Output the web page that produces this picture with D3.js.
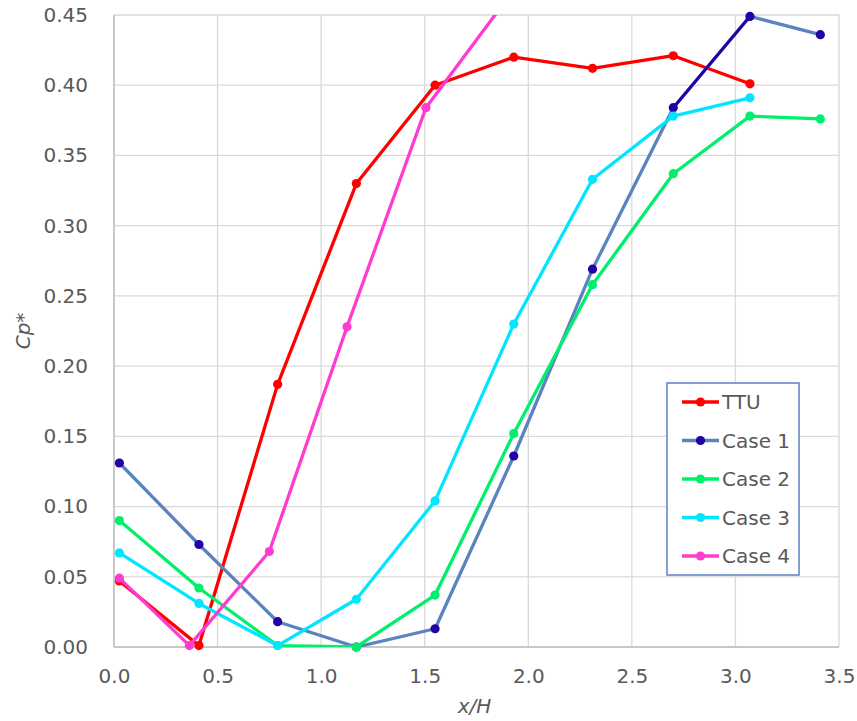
<!DOCTYPE html>
<html>
<head>
<meta charset="utf-8">
<script src="https://cdn.jsdelivr.net/npm/d3@7"></script>
<style>
  body { margin: 0; background: #fff; }
  svg { display: block; }
</style>
</head>
<body>
<svg id="chart" width="857" height="721"></svg>
<script>
// ---- data ----
var xTicks = [0, 0.5, 1.0, 1.5, 2.0, 2.5, 3.0, 3.5]
var yTicks = [0, 0.05, 0.10, 0.15, 0.20, 0.25, 0.30, 0.35, 0.40, 0.45]

var xStations = [0.026, 0.41, 0.79, 1.17, 1.55, 1.93, 2.31, 2.70, 3.07, 3.41]
var xStationsCase4 = [0.026, 0.364, 0.75, 1.125, 1.506, 1.89]

var ttu   = [0.047, 0.001, 0.187, 0.330, 0.400, 0.420, 0.412, 0.421, 0.401]
var case1 = [0.131, 0.073, 0.018, 0.000, 0.013, 0.136, 0.269, 0.384, 0.449, 0.436]
var case2 = [0.090, 0.042, 0.001, 0.000, 0.037, 0.152, 0.258, 0.337, 0.378, 0.376]
var case3 = [0.067, 0.031, 0.001, 0.034, 0.104, 0.230, 0.333, 0.378, 0.391]
var case4 = [0.049, 0.001, 0.068, 0.228, 0.384, 0.460]

var names = ["TTU", "Case 1", "Case 2", "Case 3", "Case 4"]

var series = [
  {name: names[0], xs: xStations, values: ttu, line: "#ff0000", dot: "#ff0000"},
  {name: names[1], xs: xStations, values: case1, line: "#5a83bf", dot: "#2400a8"},
  {name: names[2], xs: xStations, values: case2, line: "#00ef6c", dot: "#00ef6c"},
  {name: names[3], xs: xStations, values: case3, line: "#00e6ff", dot: "#00e6ff"},
  {name: names[4], xs: xStationsCase4, values: case4, line: "#ff3ccf", dot: "#ff3ccf"}
]

var svg = d3.select('svg#chart')
var margin = {left: 114, right: 18, top: 15, bottom: 74}
var width = 857
var height = 721
var fontFamily = "'DejaVu Sans', sans-serif"
var textColor = "#595959"

var x = d3.scaleLinear()
    .domain([0, 3.5])
    .range([margin.left, width - margin.right])
var y = d3.scaleLinear()
    .domain([0, 0.45])
    .range([height - margin.bottom, margin.top])

// gridlines
var grid = svg.append("g")
    .attr("stroke", "#d9d9d9")
    .attr("stroke-width", 1.3)
grid.selectAll("line.v")
  .data(xTicks)
  .enter().append("line")
    .attr("x1", d => x(d)).attr("x2", d => x(d))
    .attr("y1", y(0.45)).attr("y2", y(0))
grid.selectAll("line.h")
  .data(yTicks)
  .enter().append("line")
    .attr("x1", x(0)).attr("x2", x(3.5))
    .attr("y1", d => y(d)).attr("y2", d => y(d))

// axis lines
svg.append("line")
    .attr("x1", x(0)).attr("x2", x(0))
    .attr("y1", y(0.45)).attr("y2", y(0))
    .attr("stroke", "#bfbfbf").attr("stroke-width", 1.5)
svg.append("line")
    .attr("x1", x(0)).attr("x2", x(3.5))
    .attr("y1", y(0)).attr("y2", y(0))
    .attr("stroke", "#bfbfbf").attr("stroke-width", 1.5)

// tick labels through d3 axes, domain and tick marks removed
svg.append("g")
    .attr("transform", `translate(0,${y(0)})`)
    .call(d3.axisBottom(x).tickValues(xTicks).tickFormat(d3.format(".1f")).tickSize(0).tickPadding(22))
    .call(g => g.select(".domain").remove())
    .call(g => g.selectAll("text")
        .attr("fill", textColor)
        .style("font", "20px " + fontFamily))

svg.append("g")
    .attr("transform", `translate(${x(0)},0)`)
    .call(d3.axisLeft(y).tickValues(yTicks).tickFormat(d3.format(".2f")).tickSize(0).tickPadding(26))
    .call(g => g.select(".domain").remove())
    .call(g => g.selectAll("text")
        .attr("fill", textColor)
        .style("font", "20px " + fontFamily))

// axis titles
svg.append("text")
    .attr("x", (x(0) + x(3.5)) / 2 - 2)
    .attr("y", 713)
    .attr("text-anchor", "middle")
    .attr("fill", textColor)
    .style("font", "italic 20px " + fontFamily)
    .text("x/H")

svg.append("text")
    .attr("transform", `translate(30,${(y(0) + y(0.45)) / 2}) rotate(-90)`)
    .attr("text-anchor", "middle")
    .attr("fill", textColor)
    .style("font", "italic 20px " + fontFamily)
    .text("Cp*")

// clip for lines
svg.append("clipPath")
    .attr("id", "plotclip")
  .append("rect")
    .attr("x", x(0)).attr("y", y(0.45))
    .attr("width", x(3.5) - x(0)).attr("height", y(0) - y(0.45))

var line = d3.line()
    .x(d => x(d[0]))
    .y(d => y(d[1]))

series.forEach(function(s) {
  var pts = s.values.map((v, i) => [s.xs[i], v])
  var g = svg.append("g")

  g.append("path")
      .attr("clip-path", "url(#plotclip)")
      .attr("fill", "none")
      .attr("stroke", s.line)
      .attr("stroke-width", 3.3)
      .attr("stroke-linejoin", "round")
      .attr("d", line(pts))

  // Case 1: one segment formatted with the marker colour in the original
  if (s.name == "Case 1") {
    g.append("path")
        .attr("fill", "none")
        .attr("stroke", s.dot)
        .attr("stroke-width", 3)
        .attr("d", line(pts.slice(7, 9)))
  }

  g.selectAll("circle")
    .data(pts.filter(d => d[1] <= 0.45))
    .enter().append("circle")
      .attr("cx", d => x(d[0]))
      .attr("cy", d => y(d[1]))
      .attr("r", 4.6)
      .attr("fill", s.dot)
})

// legend
var legend = svg.append("g")
    .attr("transform", "translate(667,383)")
legend.append("rect")
    .attr("width", 132)
    .attr("height", 192)
    .attr("fill", "#fff")
    .attr("stroke", "#5a83bf")
    .attr("stroke-width", 1.5)

var item = legend.selectAll("g.item")
  .data(series)
  .enter().append("g")
    .attr("transform", (d, i) => `translate(0,${19 + i * 38.5})`)
item.append("line")
    .attr("x1", 15).attr("x2", 52)
    .attr("stroke", d => d.line)
    .attr("stroke-width", 3.3)
item.append("circle")
    .attr("cx", 33.5)
    .attr("r", 4.6)
    .attr("fill", d => d.dot)
item.append("text")
    .attr("x", 55)
    .attr("dy", "0.36em")
    .attr("fill", textColor)
    .style("font", "20px " + fontFamily)
    .text(d => d.name)
</script>
</body>
</html>
